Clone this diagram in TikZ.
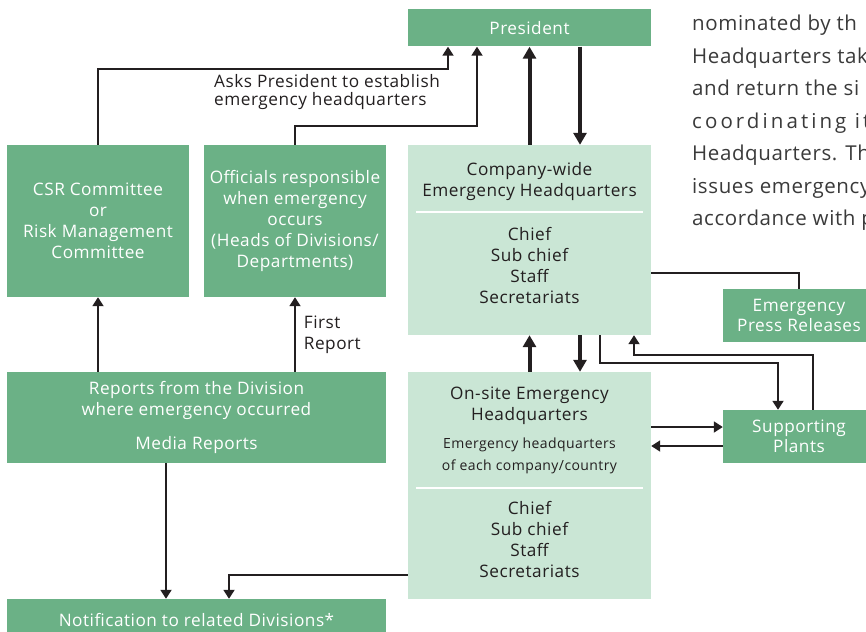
\documentclass[tikz,border=0pt]{standalone}
\usepackage{fontspec}
\setmainfont{Open Sans}[LetterSpace=3]
\usetikzlibrary{positioning,arrows.meta}
\definecolor{darkgrn}{HTML}{6BB186}
\definecolor{lightgrn}{HTML}{CAE6D5}
\definecolor{ink}{HTML}{231F20}
\definecolor{bodytxt}{HTML}{3A3A3A}

\begin{document}
\begin{tikzpicture}[
  x=1pt,y=-1pt,
  font=\fontsize{17.2}{21}\selectfont,
  box/.style={inner sep=0pt,align=center},
  dark/.style={box,fill=darkgrn,text=white},
  pale/.style={box,fill=lightgrn},
  txt/.style={align=center,text=ink,inner sep=0pt},
  link/.style={draw=ink,line width=1.8pt},
  heavy/.style={draw=ink,line width=4pt,>={Triangle[length=12pt,width=13pt]}},
  sep/.style={draw=white,line width=1.5pt},
  >={Triangle[length=9pt,width=11pt]}
]
\useasboundingbox (0,0) rectangle (866,631);
\clip (0,0) rectangle (866,631);

% ---------------- boxes ----------------
\node[dark,minimum width=243pt,minimum height=37pt] (pres) at (529.5,28) {President};
\node[dark,minimum width=182pt,minimum height=152pt] (csr) at (98,221)
     {CSR Committee\\or\\Risk Management\\Committee};
\node[dark,minimum width=182pt,minimum height=152pt] (off) at (295,221)
     {Officials responsible\\when emergency\\occurs\\(Heads of Divisions/\\Departments)};
\node[pale,minimum width=243pt,minimum height=190pt] (cw) at (529.5,240) {};
\node[txt] (cwname) at (529.5,181.5) {Company-wide\\Emergency Headquarters};
\node[txt] (cwstaff) at (529.5,266) {Chief\\Sub chief\\Staff\\Secretariats};
\draw[sep] ([xshift=8pt,yshift=-67pt]cw.north west) -- ([xshift=-8pt,yshift=-67pt]cw.north east);
\node[dark,minimum width=152pt,minimum height=53pt,font=\fontsize{17.2}{20}\selectfont] (press) at (799,315.5)
     {Emergency\\Press Releases};
\node[dark,minimum width=379pt,minimum height=91pt] (rep) at (196.5,417.5)
     {Reports from the Division\\where emergency occurred\\[13pt]Media Reports};
\node[pale,minimum width=243pt,minimum height=227pt] (os) at (529.5,485.5) {};
\node[txt] (osname) at (529.5,406) {On-site Emergency\\Headquarters};
\node[txt,font=\fontsize{14}{22}\selectfont] (osnote) at (529.5,456)
     {Emergency headquarters\\of each company/country};
\draw[sep] ([xshift=8pt,yshift=-116pt]os.north west) -- ([xshift=-8pt,yshift=-116pt]os.north east);
\node[txt] (osstaff) at (529.5,539.5) {Chief\\Sub chief\\Staff\\Secretariats};
\node[dark,minimum width=152pt,minimum height=53pt,font=\fontsize{17.2}{20}\selectfont] (sup) at (799,436.5)
     {Supporting\\Plants};
\node[dark,minimum width=379pt,minimum height=42pt] (note) at (196.5,620)
     {Notification to related Divisions*};

% ---------------- running text (cut at the edge) ----------------
\node[anchor=north west,align=left,inner sep=0pt,text=bodytxt,font=\fontsize{20.5}{32.5}\selectfont\addfontfeature{LetterSpace=3}] (para) at (692,15)
     {nominated by th\\Headquarters tak\\and return the si\\{\addfontfeature{LetterSpace=15}coordinating it}\\Headquarters. Th\\issues emergency\\accordance with p};

% ---------------- connectors ----------------
\draw[link,->] (csr.north) -- ++(0,-76) -| ([xshift=-81.5pt]pres.south);
\draw[link,->] (off.north) -- ++(0,-19) -| ([xshift=-52.5pt]pres.south);
\node[txt,anchor=west,align=left,font=\fontsize{17.2}{18}\selectfont] (asks) at (214,92)
     {Asks President to establish\\emergency headquarters};
\draw[heavy,->] (cw.north) -- (pres.south);
\draw[heavy,->] ([xshift=50.5pt]pres.south) -- ([xshift=50.5pt]cw.north);
\draw[heavy,->] (os.north) -- (cw.south);
\draw[heavy,->] ([xshift=50.5pt]cw.south) -- ([xshift=50.5pt]os.north);
\draw[link] ([yshift=-33pt]cw.east) -| (press.north);
\draw[link,->] ([xshift=70.5pt]cw.south) -- ++(0,28) -| ([xshift=-21pt]sup.north);
\draw[link,->] ([xshift=14pt]sup.north) -- ++(0,-55) -| ([xshift=104.5pt]cw.south);
\draw[link,->] ([yshift=58.5pt]os.east) -- ([yshift=9.5pt]sup.west);
\draw[link,->] ([yshift=-9.5pt]sup.west) -- ([yshift=39.5pt]os.east);
\draw[link,->] (csr.south |- rep.north) -- (csr.south);
\draw[link,->] (off.south |- rep.north) --
     node[txt,right=8pt,align=left] (first) {First\\Report} (off.south);
\draw[link,->] ([xshift=-30.5pt]rep.south) -- ([xshift=-30.5pt]note.north);
\draw[link,->] ([yshift=-89.5pt]os.west) -| ([xshift=32.5pt]note.north);
\end{tikzpicture}
\end{document}
